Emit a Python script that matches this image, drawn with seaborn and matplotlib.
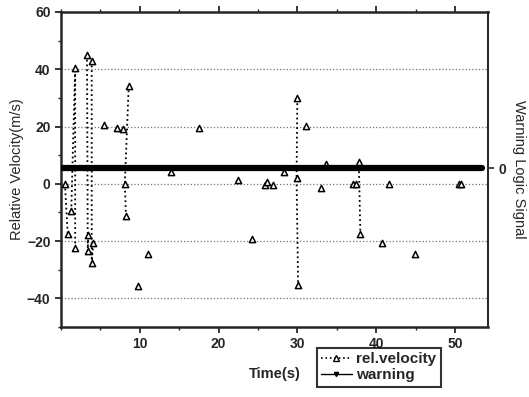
import numpy as np
import pandas as pd
import matplotlib
matplotlib.use('Agg')
import matplotlib.pyplot as plt
import seaborn as sns
from matplotlib.lines import Line2D
from matplotlib.ticker import MultipleLocator

# rel. velocity samples (time s, velocity m/s, group id; 0 = lone point)
time_s = [0.5, 0.85, 1.3, 1.8, 1.8, 3.3, 3.4, 3.45, 3.9, 3.9, 4.1,
          5.45, 7.1, 7.9, 8.6, 8.1, 8.25, 9.8, 11.1, 13.9, 17.5,
          22.5, 24.2, 25.9, 26.1, 26.9, 28.3, 30.0, 29.9, 30.1, 31.05,
          33.0, 33.6, 37.1, 37.4, 37.8, 38.0, 40.7, 41.6, 44.9, 50.5, 50.8]
rel_velocity = [0, -17.5, -9.5, 40.3, -22.4, 45, -23.5, -18, 43, -27.7, -20.5,
                20.6, 19.6, 19.2, 34.3, 0, -11.2, -35.7, -24.6, 4.2, 19.4,
                1.4, -19.2, -0.5, 0.5, -0.4, 4.0, 29.8, 1.9, -35.4, 20.3,
                -1.3, 7.0, 0.1, 0.1, 7.7, -17.6, -20.5, 0.1, -24.6, 0.1, 0.1]
group = [1, 1, 2, 2, 2, 3, 3, 3, 4, 4, 4,
         0, 0, 0, 5, 5, 5, 0, 0, 0, 0,
         0, 0, 0, 0, 0, 0, 6, 6, 6, 0,
         0, 0, 0, 0, 7, 7, 0, 0, 0, 0, 0]

# warning logic signal (right axis)
warning_time = [0, 53.5]
warning_signal = [0, 0]

df = pd.DataFrame({'t': time_s, 'v': rel_velocity, 'grp': group})
linked = df[df['grp'] > 0]

sns.set_style('ticks')
plt.rcParams['font.family'] = ['Liberation Sans', 'DejaVu Sans']

fig = plt.figure(figsize=(5.29, 3.97), dpi=100)
ax = fig.add_axes([0.1153, 0.1763, 0.8072, 0.7935])

ax.set_axisbelow(True)
ax.yaxis.grid(True, linestyle=':', color='0.45', linewidth=0.9)

sns.lineplot(data=linked, x='t', y='v', units='grp', estimator=None, sort=False,
             color='black', linestyle=':', linewidth=1.3, ax=ax)
sns.scatterplot(data=df, x='t', y='v', marker='^', s=20, facecolor='white',
                edgecolor='black', linewidth=1.1, ax=ax, zorder=4)

ax.set_xlim(0, 54.2)
ax.set_ylim(-50, 60)
ax.set_xticks([10, 20, 30, 40, 50])
ax.xaxis.set_minor_locator(MultipleLocator(5))
ax.set_yticks([-40, -20, 0, 20, 40, 60])
ax.yaxis.set_minor_locator(MultipleLocator(10))
ax.tick_params(axis='both', which='major', labelsize=10, width=1.3, length=4, direction='out')
ax.tick_params(axis='both', which='minor', width=1.0, length=2.5, direction='out')
ax.tick_params(axis='x', which='both', top=True)
for lab in ax.get_xticklabels() + ax.get_yticklabels():
    lab.set_fontweight('bold')
for side in ['left', 'bottom', 'top']:
    ax.spines[side].set_linewidth(1.8)
ax.spines['right'].set_linewidth(1.3)

ax.set_xlabel('Time(s)', fontsize=10.5, fontweight='bold', labelpad=11)
ax.set_ylabel('Relative Velocity(m/s)', fontsize=10.5, labelpad=2)

ax2 = ax.twinx()
sns.lineplot(x=warning_time, y=warning_signal, color='black', linewidth=4.5, ax=ax2)
ax2.set_ylim(-55.5, 54.5)
ax2.set_yticks([0])
ax2.tick_params(axis='y', labelsize=10, width=1.2, length=4)
for lab in ax2.get_yticklabels():
    lab.set_fontweight('bold')
ax2.set_ylabel('Warning Logic Signal', fontsize=10.5, rotation=270, labelpad=14)
for side in ['left', 'bottom', 'top']:
    ax2.spines[side].set_visible(False)
ax2.spines['right'].set_linewidth(1.3)

handles = [Line2D([0], [0], color='black', linestyle=':', linewidth=1.2, marker='^',
                  markersize=4, markerfacecolor='white', markeredgecolor='black'),
           Line2D([0], [0], color='black', linestyle='-', linewidth=1.0, marker='v',
                  markersize=3, markerfacecolor='black')]
leg = fig.legend(handles, ['rel.velocity', 'warning'], loc='lower left',
                 bbox_to_anchor=(0.584, 0.006), fontsize=11, frameon=True,
                 fancybox=False, edgecolor='black', handlelength=2.0,
                 handletextpad=0.3, borderpad=0.3, labelspacing=0.15)
leg.get_frame().set_linewidth(1.5)
for txt in leg.get_texts():
    txt.set_fontweight('bold')

fig.savefig('out.png', dpi=100)
